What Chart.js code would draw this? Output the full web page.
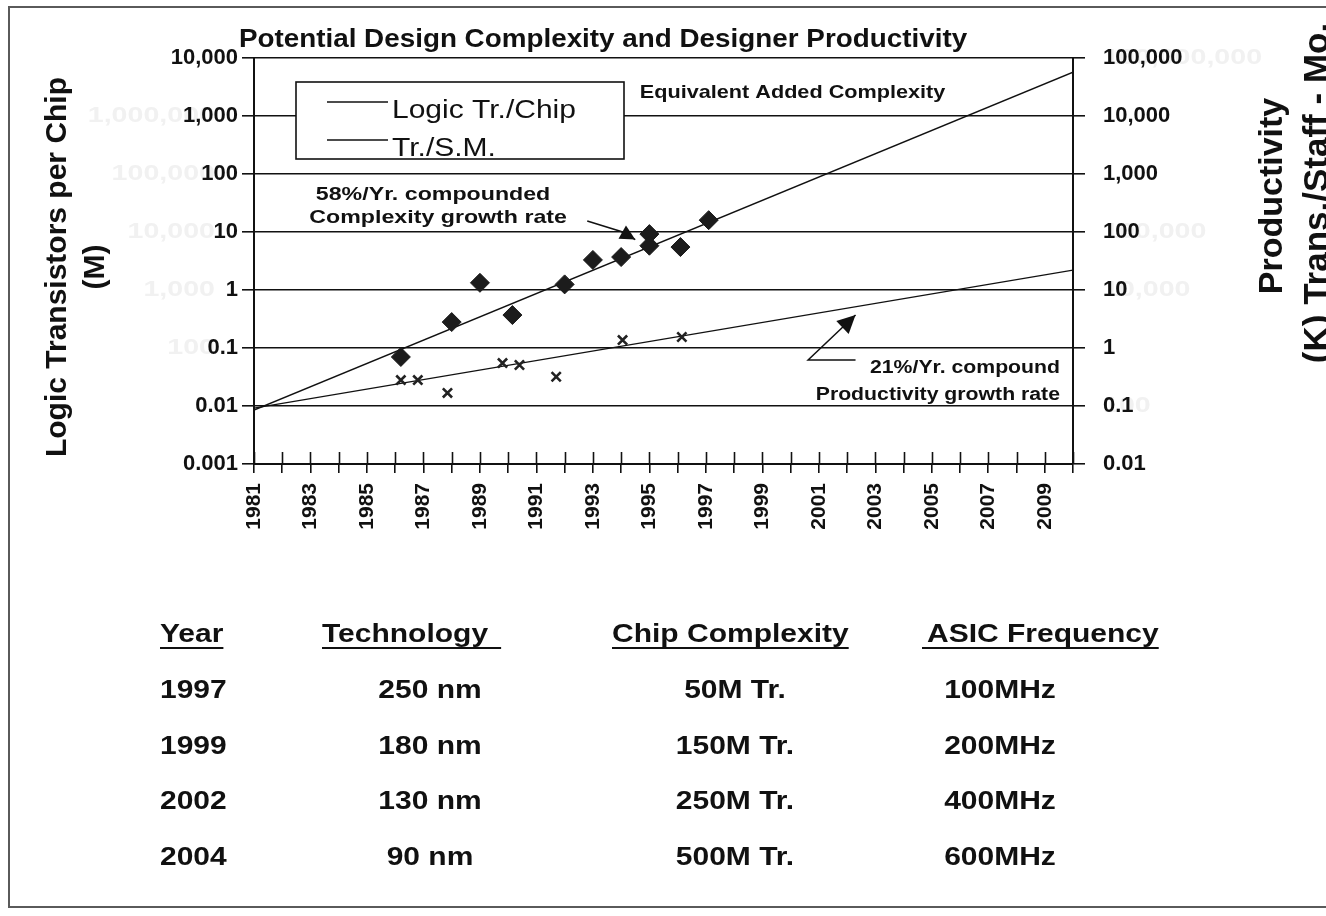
<!DOCTYPE html>
<html>
<head>
<meta charset="utf-8">
<script src="https://cdn.jsdelivr.net/npm/chart.js@4/dist/chart.umd.min.js"></script>
<style>
  html, body { margin: 0; padding: 0; background: #ffffff; }
  canvas { display: block; }
</style>
</head>
<body>
<canvas id="c" width="1326" height="916"></canvas>
<script>
const FONT = '"Liberation Sans", Arial, Helvetica, sans-serif';

// ---- Axes -------------------------------------------------------------
const yearMin = 1981;
const yearMax = 2010;
const yearLabels = ['1981','1983','1985','1987','1989','1991','1993','1995',
                    '1997','1999','2001','2003','2005','2007','2009'];

// Left axis: logic transistors per chip (M)
const chipTicks = [0.001, 0.01, 0.1, 1, 10, 100, 1000, 10000];
const chipTickLabels = ['0.001','0.01','0.1','1','10','100','1,000','10,000'];

// Right axis: productivity, (K) transistors per staff-month
const prodTicks = [0.01, 0.1, 1, 10, 100, 1000, 10000, 100000];
const prodTickLabels = ['0.01','0.1','1','10','100','1,000','10,000','100,000'];

// Faint underprint of an earlier, unscaled set of axis numbers
const faintLeftValues = [1000, 100, 10, 1, 0.1];
const faintLeftLabels = ['1,000,000','100,000','10,000','1,000','100'];
const faintRightValues = [100000, 100, 10, 0.1];
const faintRightLabels = ['100,000,000','100,000','10,000','100'];

// ---- Series -----------------------------------------------------------
// 58%/yr compounded complexity trend (left axis)
const chipTrendYears = [1981, 2010];
const chipTrendValues = [0.0085, 5700];
// 21%/yr compounded productivity trend (right axis)
const prodTrendYears = [1981, 2010];
const prodTrendValues = [0.092, 22];

// Logic transistors per chip, individual designs (M)
const chipYears  = [1986.2, 1988.0, 1989.0, 1990.15, 1992.0, 1993.0, 1994.0, 1995.0, 1995.0, 1996.1, 1997.1];
const chipValues = [0.070, 0.28, 1.33, 0.37, 1.25, 3.3, 3.7, 9.2, 5.8, 5.5, 16];

// Designer productivity, individual designs (K tr./staff-month)
const prodYears  = [1986.2, 1986.8, 1987.85, 1989.8, 1990.4, 1991.7, 1994.05, 1996.15];
const prodValues = [0.28, 0.28, 0.168, 0.55, 0.51, 0.32, 1.37, 1.55];

// ---- Table beneath the chart -------------------------------------------
const tableHeaders    = ['Year', 'Technology', 'Chip Complexity', 'ASIC Frequency'];
const tableYears      = ['1997', '1999', '2002', '2004'];
const tableTech       = ['250 nm', '180 nm', '130 nm', '90 nm'];
const tableComplexity = ['50M Tr.', '150M Tr.', '250M Tr.', '500M Tr.'];
const tableFreq       = ['100MHz', '200MHz', '400MHz', '600MHz'];

// ---- Helpers ---------------------------------------------------------------
function pts(xs, ys) { return xs.map((x, i) => ({ x: x, y: ys[i] })); }

function text(ctx, str, x, y, opt) {
  ctx.save();
  ctx.font = (opt.weight || 'bold') + ' ' + opt.size + 'px ' + FONT;
  ctx.fillStyle = opt.color || '#111';
  ctx.textAlign = opt.align || 'left';
  ctx.textBaseline = opt.baseline || 'alphabetic';
  ctx.translate(x, y);
  if (opt.rotate) ctx.rotate(opt.rotate);
  ctx.scale(opt.sx || 1, 1);
  ctx.fillText(str, 0, 0);
  const w = ctx.measureText(str).width * (opt.sx || 1);
  ctx.restore();
  return w;
}

function arrow(ctx, path, head) {
  ctx.save();
  ctx.strokeStyle = '#111';
  ctx.fillStyle = '#111';
  ctx.lineWidth = 1.5;
  ctx.beginPath();
  path.forEach((p, i) => i ? ctx.lineTo(p[0], p[1]) : ctx.moveTo(p[0], p[1]));
  ctx.stroke();
  const a = path[path.length - 2], b = path[path.length - 1];
  const ang = Math.atan2(b[1] - a[1], b[0] - a[0]);
  ctx.translate(b[0], b[1]);
  ctx.rotate(ang);
  ctx.beginPath();
  ctx.moveTo(0, 0);
  ctx.lineTo(-head, -head * 0.5);
  ctx.lineTo(-head, head * 0.5);
  ctx.closePath();
  ctx.fill();
  ctx.restore();
}

// Everything drawn around the plot: frame, titles, legend, notes, table
const decorations = {
  id: 'decorations',
  beforeDraw(chart) {
    const ctx = chart.ctx;
    const y = chart.scales.y, y2 = chart.scales.y2;
    ctx.save();
    ctx.fillStyle = '#ffffff';
    ctx.fillRect(0, 0, chart.width, chart.height);
    ctx.strokeStyle = '#5a5a5a';
    ctx.lineWidth = 2;
    ctx.strokeRect(9, 7, 1340, 900);
    ctx.restore();
    faintLeftValues.forEach((v, i) =>
      text(ctx, faintLeftLabels[i], 215, y.getPixelForValue(v), { size: 22, sx: 1.3, align: 'right', baseline: 'middle', color: '#f1f1f1' }));
    faintRightValues.forEach((v, i) =>
      text(ctx, faintRightLabels[i], 1103, y2.getPixelForValue(v), { size: 22, sx: 1.3, align: 'left', baseline: 'middle', color: '#f1f1f1' }));
  },
  afterDraw(chart) {
    const ctx = chart.ctx;
    const area = chart.chartArea;
    const x = chart.scales.x, y = chart.scales.y;
    const X = v => x.getPixelForValue(v);
    const Y = v => y.getPixelForValue(v);

    // inner half of each year tick
    ctx.save();
    ctx.strokeStyle = '#111';
    ctx.lineWidth = 1.6;
    x.ticks.forEach(t => {
      const px = Math.round(X(t.value)) + 0.5;
      ctx.beginPath();
      ctx.moveTo(px, area.bottom - 12);
      ctx.lineTo(px, area.bottom);
      ctx.stroke();
    });
    ctx.restore();

    // chart title
    text(ctx, 'Potential Design Complexity and Designer Productivity', 603, 47, { size: 26.5, sx: 1.05, align: 'center' });

    // axis titles
    text(ctx, 'Logic Transistors per Chip', 66, 267, { size: 30, align: 'center', rotate: -Math.PI / 2 });
    text(ctx, '(M)', 104, 267, { size: 30, align: 'center', rotate: -Math.PI / 2 });
    text(ctx, 'Productivity', 1282, 196, { size: 34, align: 'center', rotate: -Math.PI / 2 });
    text(ctx, '(K) Trans./Staff - Mo.', 1328, 193, { size: 35, align: 'center', rotate: -Math.PI / 2 });

    // legend box
    const lx = area.left + 42, ly = area.top + 24, lw = 328, lh = 77;
    ctx.save();
    ctx.fillStyle = '#ffffff';
    ctx.fillRect(lx, ly, lw, lh);
    ctx.strokeStyle = '#111';
    ctx.lineWidth = 1.6;
    ctx.strokeRect(lx, ly, lw, lh);
    ctx.lineWidth = 1.3;
    [0, 1].forEach(i => {
      const ry = ly + 20 + i * 38;
      ctx.beginPath();
      ctx.moveTo(lx + 31, ry);
      ctx.lineTo(lx + 92, ry);
      ctx.stroke();
      text(ctx, chart.data.datasets[i].label, lx + 96, ry + 16, { size: 25, weight: 'normal', sx: 1.2 });
    });
    ctx.restore();

    // notes inside the plot, anchored on year / left-axis value
    text(ctx, 'Equivalent Added Complexity', X(2000.07), Y(2494), { size: 18.5, sx: 1.17, align: 'center', baseline: 'middle' });
    text(ctx, '58%/Yr. compounded', X(1987.34), Y(43), { size: 19, sx: 1.22, align: 'center', baseline: 'middle' });
    text(ctx, 'Complexity growth rate', X(1987.52), Y(17.4), { size: 19, sx: 1.22, align: 'center', baseline: 'middle' });
    arrow(ctx, [[X(1992.8), Y(15.5)], [X(1994.0), Y(10.2)], [X(1994.5), Y(7.4)]], 15);

    text(ctx, '21%/Yr. compound', X(2009.54), Y(0.045), { size: 18, sx: 1.18, align: 'right', baseline: 'middle' });
    text(ctx, 'Productivity growth rate', X(2009.54), Y(0.0155), { size: 18, sx: 1.18, align: 'right', baseline: 'middle' });
    arrow(ctx, [[X(2002.3), Y(0.062)], [X(2000.62), Y(0.062)], [X(2002.3), Y(0.37)]], 18);

    // table
    const heads = [160, 322, 612, 927];
    tableHeaders.forEach((h, i) => {
      const w = text(ctx, h, heads[i], 642, { size: 25, sx: 1.2 });
      ctx.save();
      ctx.fillStyle = '#111';
      ctx.fillRect(heads[i] - (i === 3 ? 5 : 0), 647, w + (i === 1 ? 13 : 0) + (i === 3 ? 5 : 0), 2);
      ctx.restore();
    });
    const rowsY = [698, 754, 809, 865];
    rowsY.forEach((ry, r) => {
      text(ctx, tableYears[r], 160, ry, { size: 25, sx: 1.2 });
      text(ctx, tableTech[r], 430, ry, { size: 25, sx: 1.2, align: 'center' });
      text(ctx, tableComplexity[r], 735, ry, { size: 25, sx: 1.2, align: 'center' });
      text(ctx, tableFreq[r], 1000, ry, { size: 25, sx: 1.2, align: 'center' });
    });
  }
};

const axisFont = { family: FONT, size: 22, weight: 'bold' };

new Chart(document.getElementById('c'), {
  type: 'scatter',
  data: {
    datasets: [
      { label: 'Logic Tr./Chip', data: pts(chipTrendYears, chipTrendValues), yAxisID: 'y',
        showLine: true, borderColor: '#111', borderWidth: 1.4, pointRadius: 0, order: 2 },
      { label: 'Tr./S.M.', data: pts(prodTrendYears, prodTrendValues), yAxisID: 'y2',
        showLine: true, borderColor: '#111', borderWidth: 1.4, pointRadius: 0, order: 2 },
      { label: 'Logic transistors per chip', data: pts(chipYears, chipValues), yAxisID: 'y',
        pointStyle: 'rectRot', pointRadius: 9.5, backgroundColor: '#1c1c1c', borderColor: '#1c1c1c', borderWidth: 1, order: 0 },
      { label: 'Transistors per staff-month', data: pts(prodYears, prodValues), yAxisID: 'y2',
        pointStyle: 'crossRot', pointRadius: 6.5, borderColor: '#222', borderWidth: 2.6, order: 0 }
    ]
  },
  options: {
    responsive: false,
    animation: false,
    devicePixelRatio: 1,
    layout: { padding: { top: 58, left: 0, right: 0, bottom: 0 } },
    plugins: { legend: { display: false }, tooltip: { enabled: false }, title: { display: false } },
    scales: {
      x: {
        type: 'linear', position: 'bottom', min: yearMin, max: yearMax,
        afterFit(s) { s.height = 452; },
        ticks: {
          stepSize: 1, autoSkip: false, minRotation: 90, maxRotation: 90, padding: 10,
          color: '#111', font: { family: FONT, size: 21, weight: 'bold' },
          callback: v => (yearLabels.includes(String(v)) ? String(v) : '')
        },
        grid: { drawOnChartArea: false, drawTicks: true, tickLength: 9, color: '#111', lineWidth: 1.6 },
        border: { display: true, color: '#111', width: 2 }
      },
      y: {
        type: 'logarithmic', position: 'left', min: chipTicks[0], max: chipTicks[chipTicks.length - 1],
        afterFit(s) { s.width = 254; },
        afterBuildTicks(s) { s.ticks = chipTicks.map(v => ({ value: v })); },
        ticks: { padding: 4, color: '#111', font: axisFont,
                 callback: (v, i) => chipTickLabels[i] },
        grid: { color: '#111', lineWidth: 1.6, tickLength: 12 },
        border: { display: true, color: '#111', width: 2 }
      },
      y2: {
        type: 'logarithmic', position: 'right', min: prodTicks[0], max: prodTicks[prodTicks.length - 1],
        afterFit(s) { s.width = 253; },
        afterBuildTicks(s) { s.ticks = prodTicks.map(v => ({ value: v })); },
        ticks: { padding: 18, color: '#111', font: axisFont,
                 callback: (v, i) => prodTickLabels[i] },
        grid: { drawOnChartArea: false, color: '#111', lineWidth: 1.6, tickLength: 12 },
        border: { display: true, color: '#111', width: 2 }
      }
    }
  },
  plugins: [decorations]
});
</script>
</body>
</html>
